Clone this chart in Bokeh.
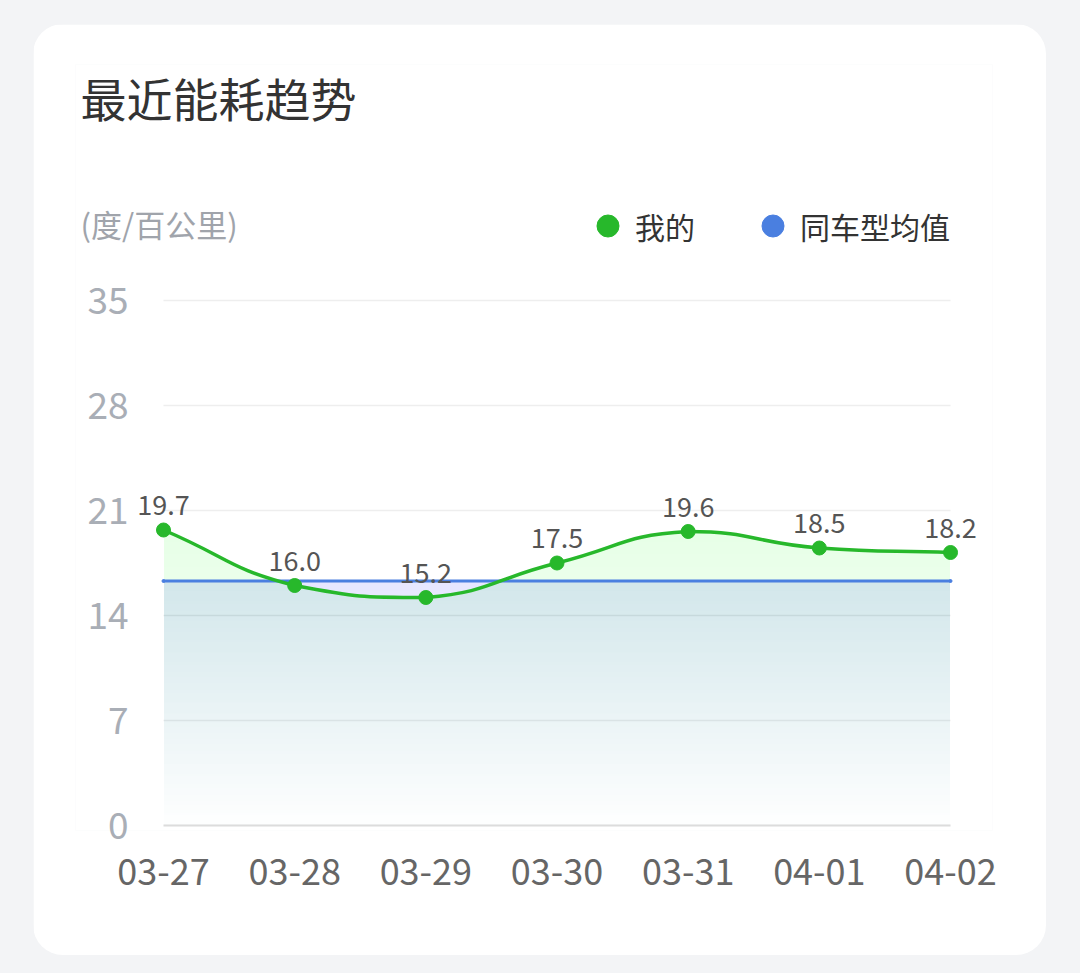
from bokeh.plotting import figure
from bokeh.models import Range1d, FixedTicker, Legend, LegendItem, Label
from bokeh.embed import file_html
from bokeh.resources import INLINE
from bokeh.core.properties import value
import numpy as np

# ---------------- data ----------------
title_text = "最近能耗趋势"
unit_text = "(度/百公里)"
dates = ["03-27", "03-28", "03-29", "03-30", "03-31", "04-01", "04-02"]
mine = [19.7, 16.0, 15.2, 17.5, 19.6, 18.5, 18.2]
avg_value = 16.3
y_ticks = [0, 7, 14, 21, 28, 35]
series_names = ["我的", "同车型均值"]

# ---------------- style ----------------
GREEN = "#27b82b"
BLUE = "#4a7fe0"
FONT = "Noto Sans CJK SC"

xs = list(range(len(dates)))

p = figure(width=1013, height=931, output_backend="svg", toolbar_location=None,
           x_range=Range1d(-0.6709, 6.320), y_range=Range1d(-0.333, 50.733),
           min_border_left=42, min_border_right=54, min_border_top=40, min_border_bottom=125,
           background_fill_color="white", border_fill_color="white", outline_line_color=None,
           styles={"border-radius": "30px", "overflow": "hidden"}, margin=(24, 0, 0, 33))
p.title.visible = False

p.xgrid.visible = False
p.ygrid.visible = False

# grid lines limited to the category span
p.segment(x0=xs[0], x1=xs[-1], y0=y_ticks[1:], y1=y_ticks[1:], line_color="#eeeeee", line_width=1.5)
p.segment(x0=xs[0], x1=xs[-1], y0=y_ticks[0], y1=y_ticks[0], line_color="#dcdcdc", line_width=2)

# ---- smooth curve control points (echarts-like, clamped) ----
SX, SY = 131.17, 15.0
px = np.array(xs, dtype=float) * SX
py = np.array(mine, dtype=float) * SY
n = len(px)
k = 0.5
cin, cout = [], []
for i in range(n):
    a = i - 1 if i > 0 else i
    b = i + 1 if i < n - 1 else i
    vx, vy = px[b] - px[a], py[b] - py[a]
    d0 = np.hypot(px[i] - px[a], py[i] - py[a])
    d1 = np.hypot(px[b] - px[i], py[b] - py[i])
    tot = d0 + d1
    r0 = d0 / tot if tot else 0
    r1 = d1 / tot if tot else 0
    ix, iy = px[i] - vx * k * r0, py[i] - vy * k * r0
    ox, oy = px[i] + vx * k * r1, py[i] + vy * k * r1
    ix = min(max(ix, min(px[a], px[i])), max(px[a], px[i]))
    iy = min(max(iy, min(py[a], py[i])), max(py[a], py[i]))
    ox = min(max(ox, min(px[b], px[i])), max(px[b], px[i]))
    oy = min(max(oy, min(py[b], py[i])), max(py[b], py[i]))
    cin.append((ix, iy))
    cout.append((ox, oy))

bx0 = px[:-1] / SX; by0 = py[:-1] / SY
bx1 = px[1:] / SX; by1 = py[1:] / SY
cx0 = np.array([c[0] for c in cout[:-1]]) / SX; cy0 = np.array([c[1] for c in cout[:-1]]) / SY
cx1 = np.array([c[0] for c in cin[1:]]) / SX; cy1 = np.array([c[1] for c in cin[1:]]) / SY

# sampled curve for the area fill
t = np.linspace(0, 1, 40)[:, None]
def bez(p0, c0, c1, p1):
    return (1 - t) ** 3 * p0 + 3 * (1 - t) ** 2 * t * c0 + 3 * (1 - t) * t ** 2 * c1 + t ** 3 * p1
cxs = bez(bx0, cx0, cx1, bx1).T.ravel()
cys = bez(by0, cy0, cy1, by1).T.ravel()

# gradient fills (stacked translucent layers)
N = 24
top_g = float(cys.max())
for j in range(N):
    lvl = top_g * j / N
    p.varea(x=cxs, y1=np.minimum(cys, lvl), y2=cys, fill_color=GREEN, fill_alpha=0.0045)
levels_b = [avg_value * j / N for j in range(N)]
p.quad(left=xs[0], right=xs[-1], bottom=levels_b, top=avg_value, fill_color=BLUE,
       fill_alpha=0.0030, line_color=None)

# average line
p.segment(x0=xs[0], x1=xs[-1], y0=avg_value, y1=avg_value, line_color=BLUE, line_width=3)
blue_pts = p.scatter(x=[xs[0], xs[-1]], y=[avg_value, avg_value], size=3, color=BLUE)

# my line
p.bezier(x0=bx0, y0=by0, x1=bx1, y1=by1, cx0=cx0, cy0=cy0, cx1=cx1, cy1=cy1,
         line_color=GREEN, line_width=3.5)
green_pts = p.scatter(x=xs, y=mine, size=14, color=GREEN)

p.text(x=xs, y=mine, text=[f"{v:.1f}" for v in mine], y_offset=-15,
       text_align="center", text_baseline="bottom", text_font=value(FONT),
       text_font_size="27px", text_color="#555555")

# axes
p.yaxis.ticker = FixedTicker(ticks=y_ticks)
p.yaxis.axis_line_color = None
p.yaxis.major_tick_line_color = None
p.yaxis.minor_tick_line_color = None
p.yaxis.major_tick_out = 0
p.yaxis.major_tick_in = 0
p.yaxis.major_label_text_font = FONT
p.yaxis.major_label_text_font_size = "37px"
p.yaxis.major_label_text_color = "#a9aeb6"
p.yaxis.major_label_standoff = -53

p.xaxis.ticker = FixedTicker(ticks=xs)
p.xaxis.major_label_overrides = {i: d for i, d in enumerate(dates)}
p.xaxis.axis_line_color = None
p.xaxis.major_tick_line_color = None
p.xaxis.minor_tick_line_color = None
p.xaxis.major_tick_out = 0
p.xaxis.major_tick_in = 0
p.xaxis.major_label_text_font = FONT
p.xaxis.major_label_text_font_size = "36px"
p.xaxis.major_label_text_color = "#666666"
p.xaxis.major_label_standoff = 28

# title and unit (screen units measured from the plot frame's bottom-left)
p.add_layout(Label(x=5, y=734, x_units="screen", y_units="screen", text=title_text,
                   text_font=FONT, text_font_size="46px", text_color="#333333",
                   text_baseline="middle"))
p.add_layout(Label(x=5, y=607, x_units="screen", y_units="screen", text=unit_text,
                   text_font=FONT, text_font_size="31px", text_color="#a0a4ab",
                   text_baseline="middle"))

legend = Legend(items=[LegendItem(label=series_names[0], renderers=[green_pts]),
                       LegendItem(label=series_names[1], renderers=[blue_pts])],
                orientation="horizontal", location=(505, 577),
                glyph_width=55, glyph_height=55, label_standoff=0, spacing=50,
                label_text_font=FONT, label_text_font_size="30px", label_text_color="#333333",
                background_fill_alpha=0, border_line_color=None, padding=0, margin=0)
p.add_layout(legend)

html = file_html(p, INLINE)
html = html.replace("</head>", "<style>body{background-color:#f3f4f6;}</style></head>", 1)
open("out.html", "w").write(html)
